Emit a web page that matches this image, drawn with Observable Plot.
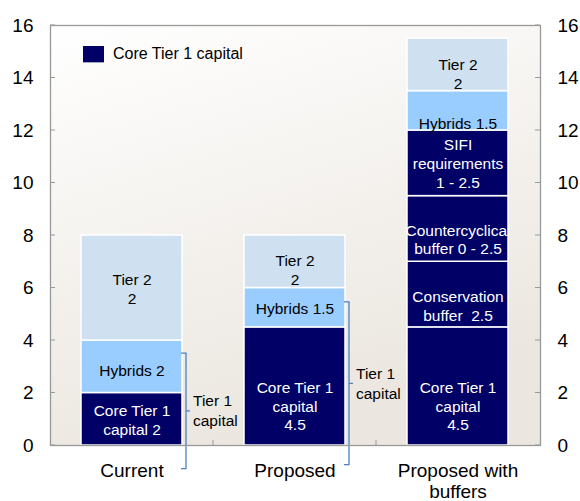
<!DOCTYPE html>
<html><head><meta charset="utf-8">
<script src="https://cdn.jsdelivr.net/npm/d3@7"></script>
<script src="https://cdn.jsdelivr.net/npm/@observablehq/plot@0.6"></script>
<style>
body{margin:0;background:#fff;font-family:"Liberation Sans",Arial,sans-serif;}
#wrap{position:relative;width:580px;height:501px;}
#legend{position:absolute;left:83px;top:45px;display:flex;align-items:center;font-size:16px;color:#000;z-index:2;}
#legend .sw{display:inline-block;width:21px;height:16px;background:#000066;margin-right:9px;border-bottom:1px solid #9ab;}
</style></head><body>
<div id="wrap"><div id="legend"><span class="sw"></span><span>Core Tier 1 capital</span></div></div>
<script>
// ---- data ----
const categories = ["Current", "Proposed", "Proposed with buffers"];
const components = ["Core Tier 1 capital", "Conservation buffer", "Countercyclical buffer", "SIFI requirements", "Hybrids", "Tier 2"];
const currentValues  = [2,   0,   0,   0,   2,   4];
const proposedValues = [4.5, 0,   0,   0,   1.5, 2];
const buffersValues  = [4.5, 2.5, 2.5, 2.5, 1.5, 2];
const currentLabels  = ["Core Tier 1\ncapital 2", "", "", "", "Hybrids 2", "Tier 2\n2"];
const proposedLabels = ["Core Tier 1\ncapital\n4.5", "", "", "", "Hybrids 1.5", "Tier 2\n2"];
const buffersLabels  = ["Core Tier 1\ncapital\n4.5", "Conservation\nbuffer  2.5", "Countercyclical\nbuffer 0 - 2.5", "SIFI\nrequirements\n1 - 2.5", "Hybrids 1.5", "Tier 2\n2"];
const tier1Categories = ["Current", "Proposed"];
const tier1Top = [3.5, 5.45];
const tier1Bottom = [-0.9, -0.75];
const tier1Text = ["Tier 1", "capital"];
const yTicks = [0, 2, 4, 6, 8, 10, 12, 14, 16];
const xTickText = {"Current": "Current", "Proposed": "Proposed", "Proposed with buffers": "Proposed with\nbuffers"};

// ---- styles ----
const componentColors = ["#000066", "#000066", "#000066", "#000066", "#99ccff", "#cfe0f0"];
const darkComponents = new Set(["Core Tier 1 capital", "Conservation buffer", "Countercyclical buffer", "SIFI requirements"]);
const labelNudge = {"Current": [0, 0, 0, 0, 3, 0], "Proposed": [19, 0, 0, 0, 0, 8], "Proposed with buffers": [19, 11, 10, 0, 12, 9]};

const valuesBy = [currentValues, proposedValues, buffersValues];
const labelsBy = [currentLabels, proposedLabels, buffersLabels];
const segments = [];
categories.forEach((cat, i) => {
  let base = 0;
  components.forEach((comp, j) => {
    const v = valuesBy[i][j];
    if (!v) return;
    segments.push({cat, comp, y1: base, y2: base + v, mid: base + v / 2, label: labelsBy[i][j], nudge: labelNudge[cat][j]});
    base += v;
  });
});
const tier1 = tier1Categories.map((cat, i) => ({cat, top: tier1Top[i], bottom: tier1Bottom[i]}));

function background(index, scales, values, dim) {
  const g = d3.create("svg:g");
  const grad = g.append("defs").append("linearGradient").attr("id", "bgGrad")
    .attr("x1", "0").attr("y1", "0").attr("x2", "0.35").attr("y2", "1");
  grad.append("stop").attr("offset", "0").attr("stop-color", "#ffffff");
  grad.append("stop").attr("offset", "1").attr("stop-color", "#ebe6df");
  g.append("rect")
    .attr("x", dim.marginLeft).attr("y", dim.marginTop)
    .attr("width", dim.width - dim.marginLeft - dim.marginRight)
    .attr("height", dim.height - dim.marginTop - dim.marginBottom)
    .attr("fill", "url(#bgGrad)");
  return g.node();
}

function bandInfo(sx, dim) {
  let bw = typeof sx.bandwidth === "function" ? sx.bandwidth() : sx.bandwidth;
  let step = typeof sx.step === "function" ? sx.step() : sx.step;
  if (step == null) step = (dim.width - dim.marginLeft - dim.marginRight) / categories.length;
  if (bw == null) bw = step * 0.62;
  return {bw, step};
}

function overlay(index, scales, values, dim) {
  const sx = scales.x, sy = scales.y;
  const {bw, step} = bandInfo(sx, dim);
  const g = d3.create("svg:g");
  const left = dim.marginLeft, right = dim.width - dim.marginRight;
  const bottom = dim.height - dim.marginBottom;
  // inward y ticks on both sides
  for (const t of yTicks) {
    const y = sy(t);
    g.append("line").attr("x1", left).attr("x2", left + 5).attr("y1", y).attr("y2", y).attr("stroke", "#999");
    g.append("line").attr("x1", right - 5).attr("x2", right).attr("y1", y).attr("y2", y).attr("stroke", "#999");
  }
  // category boundary ticks
  for (let i = 1; i < categories.length; i++) {
    const x = sx(categories[i]) - (step - bw) / 2;
    g.append("line").attr("x1", x).attr("x2", x).attr("y1", bottom - 5).attr("y2", bottom).attr("stroke", "#999");
  }
  // Tier 1 brackets
  for (const d of tier1) {
    const x0 = sx(d.cat) + bw + 4;
    const yt = sy(d.top), yb = sy(d.bottom), ym = (yt + yb) / 2;
    g.append("path")
      .attr("d", `M${x0 - 5},${yt}H${x0}V${yb}H${x0 - 5}M${x0},${ym}H${x0 + 4}`)
      .attr("fill", "none").attr("stroke", "#4f81bd").attr("stroke-width", 1.3);
    tier1Text.forEach((t, k) => {
      g.append("text").attr("x", x0 + 7).attr("y", ym + (k - 0.5) * 20).attr("dy", "0.35em")
        .attr("text-anchor", "start").attr("font-size", 15.5).attr("fill", "#000").text(t);
    });
  }
  return g.node();
}

const marks = [
  background,
  Plot.barY(segments, {x: "cat", y1: "y1", y2: "y2", fill: "comp", stroke: "white", strokeWidth: 1.5}),
  ...segments.map(s => Plot.text([s], {
    x: "cat", y: "mid", text: "label", dy: s.nudge,
    fill: darkComponents.has(s.comp) ? "#ffffff" : "#000000",
    fontSize: 15.5, lineHeight: 1.22
  })),
  overlay,
  Plot.frame({stroke: "#999", strokeWidth: 1.3}),
  Plot.axisY(yTicks, {anchor: "left", tickSize: 0, tickPadding: 17, fontSize: 19, label: null, fill: "#000"}),
  Plot.axisY(yTicks, {anchor: "right", tickSize: 0, tickPadding: 17, fontSize: 19, label: null, fill: "#000"}),
  Plot.axisX({anchor: "bottom", tickSize: 0, tickPadding: 17, fontSize: 19, lineHeight: 1.09, label: null, fill: "#000",
    tickFormat: d => xTickText[d]})
];

const chart = Plot.plot({
  width: 580, height: 501,
  marginLeft: 50, marginRight: 40, marginTop: 25, marginBottom: 56,
  style: {fontFamily: "'Liberation Sans', Arial, sans-serif", background: "white", overflow: "visible"},
  x: {domain: categories, paddingInner: 0.38, paddingOuter: 0.19, axis: null},
  y: {domain: [0, 16], axis: null},
  color: {domain: components, range: componentColors},
  marks
});
document.getElementById("wrap").prepend(chart);
</script>
</body></html>
